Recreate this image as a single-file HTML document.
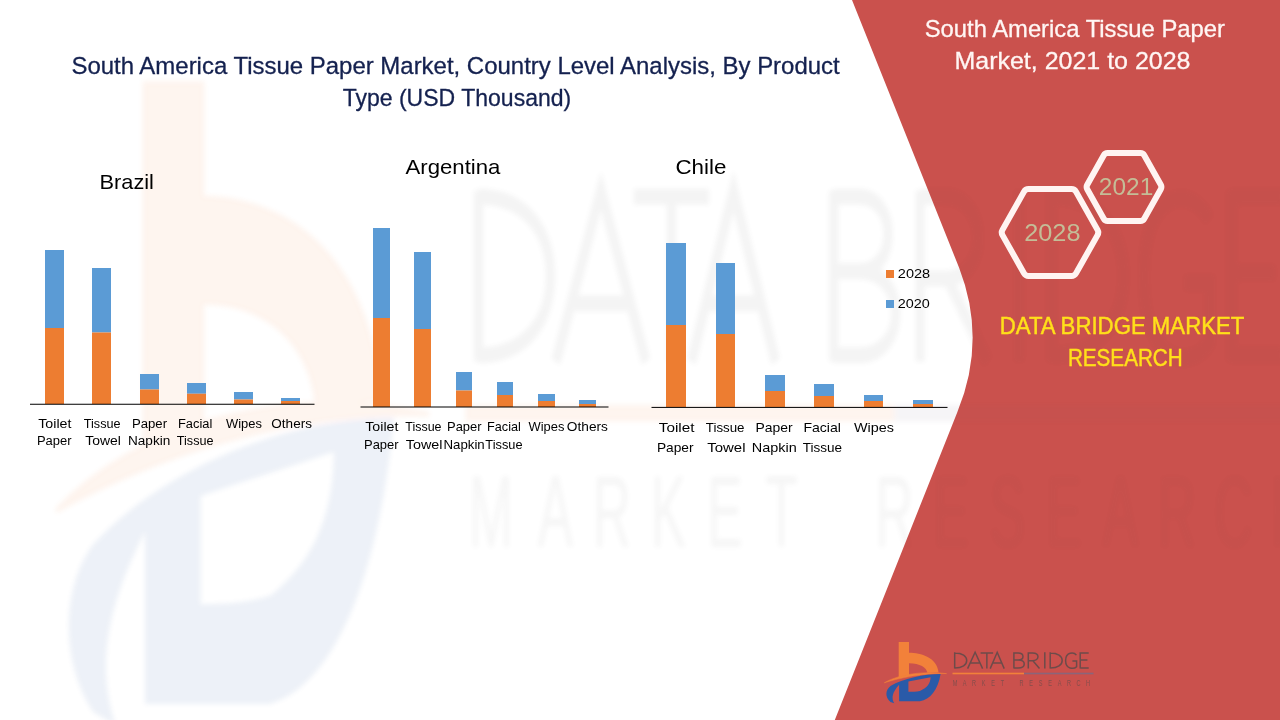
<!DOCTYPE html>
<html><head><meta charset="utf-8"><title>South America Tissue Paper Market</title>
<style>
html,body{margin:0;padding:0;background:#fff;}
body{width:1280px;height:720px;overflow:hidden;}
svg{display:block;font-family:"Liberation Sans",sans-serif;}
text{white-space:pre;}
</style></head><body>
<svg width="1280" height="720" viewBox="0 0 1280 720">
<defs>
<filter id="wmblur" x="0" y="0" width="1280" height="720" filterUnits="userSpaceOnUse"><feGaussianBlur stdDeviation="2.5"/></filter>
<g id="logo">
<path d="M898.7,641.9 H909 V652.8 C921,652.8 937,657.5 938.6,672.4 L927.4,672.8 C926.6,667.5 920,663.2 909,663.2 V675 L898.7,677.5 Z" fill="#F2813A"/>
<path d="M884.3,682.8 C897,675 921,670.6 946.5,673.6 C922,673.2 900,677.8 884.3,682.8 Z" fill="#F2813A" stroke="#F2813A" stroke-width="0.5"/>
<path d="M940.6,673.9 C925,673.8 903,678.2 890.5,686 C885.3,690 884.8,697 890.5,702 L894.2,703.2 C891.2,698 892.2,692.5 899.1,684.8 L899.1,701.2 L920,701.2 C930,699.5 938,690 940.6,673.9 Z M908.4,681.4 L930.6,677.2 C930.5,683 927.5,687.5 920,690.9 C916,691.6 912,691.7 908.4,691.7 Z" fill="#2A5AA8" fill-rule="evenodd"/>
<g fill="none" stroke="#4A4A4A" stroke-opacity="0.72" stroke-width="1.5">
<path transform="translate(953.9,652.3)" d="M0.8,0 V16.3 M0.8,0.6 C8.5,0.6 12.8,3.8 12.8,8.15 C12.8,12.5 8.5,15.700000000000001 0.8,15.700000000000001"/>
<path transform="translate(967.6,652.3)" d="M0,16.3 L7.5,0 L15,16.3 M3.2,10.76 H11.8"/>
<path transform="translate(980.6,652.3)" d="M0,0.6 H12.5 M6.25,0.6 V16.3"/>
<path transform="translate(990.2,652.3)" d="M0,16.3 L7.0,0 L14,16.3 M3,10.76 H11"/>
<path transform="translate(1013.1,652.3)" d="M0.8,0 V16.3 M0.8,0.6 H5 C11.5,0.6 11.5,7.7 5,7.7 H0.8 M5,7.7 C13.2,7.7 13.2,15.700000000000001 5,15.700000000000001 H0.8"/>
<path transform="translate(1027.5,652.3)" d="M0.8,16.3 V0 M0.8,0.6 H5 C12.3,0.6 12.3,8.4 5,8.4 H0.8 M5.4,8.4 L12,16.3"/>
<path transform="translate(1043.9,652.3)" d="M0.9,0 V16.3"/>
<path transform="translate(1049.4,652.3)" d="M0.8,0 V16.3 M0.8,0.6 C8.5,0.6 12.8,3.8 12.8,8.15 C12.8,12.5 8.5,15.700000000000001 0.8,15.700000000000001"/>
<path transform="translate(1065.0,652.3)" d="M11.4,2.8 C9,-0.4 0.6,-0.6 0.6,8.15 C0.6,17.2 9,17.0 11.6,14.4 V8.80 H7.4"/>
<path transform="translate(1079.4,652.3)" d="M0.8,0 V16.3 M0.8,0.6 H9.3 M0.8,7.82 H8 M0.8,15.700000000000001 H9.3"/>
</g>
<rect x="952.5" y="672.7" width="71.5" height="1.6" fill="#F2813A"/>
<rect x="1024" y="672.7" width="69.5" height="1.6" fill="#7A6A86" fill-opacity="0.8"/>
</g>
<clipPath id="redclip"><path d="M852,0 L959.2,268 Q987,340 957.4,412 L834.8,720 L1280,720 L1280,0 Z"/></clipPath>
</defs>
<rect width="1280" height="720" fill="#fff"/>
<g opacity="0.085" filter="url(#wmblur)"><use href="#logo" transform="matrix(6.0,0,0,10.5,-5249.70,-6658.70)"/><text transform="translate(0,547) scale(0.52,1)" font-size="102" text-anchor="middle" fill="#4A4A4A" fill-opacity="0.6" x="944.2 1068.3 1176.9 1285.6 1394.2 1502.9 1720.2 1828.8 1937.5 2046.2 2154.8 2263.5 2372.1 2480.8">MARKETRESEARCH</text></g>
<path d="M852,0 L959.2,268 Q987,340 957.4,412 L834.8,720 L1280,720 L1280,0 Z" fill="#CA514D"/>
<g opacity="0.04" filter="url(#wmblur)" clip-path="url(#redclip)"><use href="#logo" transform="matrix(6.0,0,0,10.5,-5249.70,-6658.70)"/><text transform="translate(0,547) scale(0.52,1)" font-size="102" text-anchor="middle" fill="#4A4A4A" fill-opacity="0.6" x="944.2 1068.3 1176.9 1285.6 1394.2 1502.9 1720.2 1828.8 1937.5 2046.2 2154.8 2263.5 2372.1 2480.8">MARKETRESEARCH</text></g>
<text x="71.45" y="73.60" font-size="24.30" fill="#14214F" textLength="768.26" lengthAdjust="spacingAndGlyphs" stroke="#14214F" stroke-width="0.3">South America Tissue Paper Market, Country Level Analysis, By Product</text>
<text x="342.64" y="105.80" font-size="24.30" fill="#14214F" textLength="228.65" lengthAdjust="spacingAndGlyphs" stroke="#14214F" stroke-width="0.3">Type (USD Thousand)</text>
<text x="99.55" y="189.00" font-size="19.80" fill="#000" textLength="54.38" lengthAdjust="spacingAndGlyphs" >Brazil</text>
<rect x="45" y="250" width="19" height="78" fill="#5B9BD5"/>
<rect x="45" y="328" width="19" height="76" fill="#ED7D31"/>
<rect x="92" y="268" width="19" height="64.5" fill="#5B9BD5"/>
<rect x="92" y="332.5" width="19" height="71.5" fill="#ED7D31"/>
<rect x="140" y="374" width="19" height="15.5" fill="#5B9BD5"/>
<rect x="140" y="389.5" width="19" height="14.5" fill="#ED7D31"/>
<rect x="187" y="383" width="19" height="10.75" fill="#5B9BD5"/>
<rect x="187" y="393.75" width="19" height="10.25" fill="#ED7D31"/>
<rect x="234" y="392" width="19" height="7.5" fill="#5B9BD5"/>
<rect x="234" y="399.5" width="19" height="4.5" fill="#ED7D31"/>
<rect x="281" y="398" width="19" height="3" fill="#5B9BD5"/>
<rect x="281" y="401" width="19" height="3" fill="#ED7D31"/>
<rect x="30" y="403.75" width="284.5" height="1" fill="#000"/>
<text x="38.28" y="427.50" font-size="12.30" fill="#000" textLength="33.17" lengthAdjust="spacingAndGlyphs" >Toilet</text>
<text x="36.99" y="444.50" font-size="12.30" fill="#000" textLength="34.58" lengthAdjust="spacingAndGlyphs" >Paper</text>
<text x="83.80" y="427.50" font-size="12.30" fill="#000" textLength="36.71" lengthAdjust="spacingAndGlyphs" >Tissue</text>
<text x="85.28" y="444.50" font-size="12.30" fill="#000" textLength="35.64" lengthAdjust="spacingAndGlyphs" >Towel</text>
<text x="131.97" y="427.50" font-size="12.30" fill="#000" textLength="35.09" lengthAdjust="spacingAndGlyphs" >Paper</text>
<text x="127.94" y="444.50" font-size="12.30" fill="#000" textLength="42.33" lengthAdjust="spacingAndGlyphs" >Napkin</text>
<text x="177.99" y="427.50" font-size="12.30" fill="#000" textLength="34.36" lengthAdjust="spacingAndGlyphs" >Facial</text>
<text x="176.80" y="444.50" font-size="12.30" fill="#000" textLength="36.71" lengthAdjust="spacingAndGlyphs" >Tissue</text>
<text x="226.00" y="427.50" font-size="12.30" fill="#000" textLength="35.90" lengthAdjust="spacingAndGlyphs" >Wipes</text>
<text x="271.37" y="427.50" font-size="12.30" fill="#000" textLength="40.56" lengthAdjust="spacingAndGlyphs" >Others</text>
<text x="405.50" y="173.50" font-size="19.80" fill="#000" textLength="94.86" lengthAdjust="spacingAndGlyphs" >Argentina</text>
<rect x="373" y="228" width="17" height="90" fill="#5B9BD5"/>
<rect x="373" y="318" width="17" height="89" fill="#ED7D31"/>
<rect x="414" y="252" width="17" height="77" fill="#5B9BD5"/>
<rect x="414" y="329" width="17" height="78" fill="#ED7D31"/>
<rect x="456" y="372" width="16" height="18.5" fill="#5B9BD5"/>
<rect x="456" y="390.5" width="16" height="16.5" fill="#ED7D31"/>
<rect x="497" y="382" width="16" height="13" fill="#5B9BD5"/>
<rect x="497" y="395" width="16" height="12" fill="#ED7D31"/>
<rect x="538" y="394" width="17" height="7" fill="#5B9BD5"/>
<rect x="538" y="401" width="17" height="6" fill="#ED7D31"/>
<rect x="579" y="400" width="17" height="4" fill="#5B9BD5"/>
<rect x="579" y="404" width="17" height="3" fill="#ED7D31"/>
<rect x="360.5" y="406.5" width="248" height="1" fill="#000"/>
<text x="365.28" y="431.00" font-size="12.90" fill="#000" textLength="33.17" lengthAdjust="spacingAndGlyphs" >Toilet</text>
<text x="363.99" y="449.00" font-size="12.90" fill="#000" textLength="34.58" lengthAdjust="spacingAndGlyphs" >Paper</text>
<text x="405.31" y="431.00" font-size="12.90" fill="#000" textLength="36.20" lengthAdjust="spacingAndGlyphs" >Tissue</text>
<text x="405.78" y="449.00" font-size="12.90" fill="#000" textLength="36.67" lengthAdjust="spacingAndGlyphs" >Towel</text>
<text x="446.99" y="431.00" font-size="12.90" fill="#000" textLength="34.58" lengthAdjust="spacingAndGlyphs" >Paper</text>
<text x="443.46" y="449.00" font-size="12.90" fill="#000" textLength="41.28" lengthAdjust="spacingAndGlyphs" >Napkin</text>
<text x="487.01" y="431.00" font-size="12.90" fill="#000" textLength="33.83" lengthAdjust="spacingAndGlyphs" >Facial</text>
<text x="485.30" y="449.00" font-size="12.90" fill="#000" textLength="37.22" lengthAdjust="spacingAndGlyphs" >Tissue</text>
<text x="528.50" y="431.00" font-size="12.90" fill="#000" textLength="35.90" lengthAdjust="spacingAndGlyphs" >Wipes</text>
<text x="566.86" y="431.00" font-size="12.90" fill="#000" textLength="41.07" lengthAdjust="spacingAndGlyphs" >Others</text>
<text x="675.45" y="173.50" font-size="19.80" fill="#000" textLength="50.95" lengthAdjust="spacingAndGlyphs" >Chile</text>
<rect x="666" y="243" width="20" height="82" fill="#5B9BD5"/>
<rect x="666" y="325" width="20" height="82" fill="#ED7D31"/>
<rect x="716" y="263" width="19" height="71" fill="#5B9BD5"/>
<rect x="716" y="334" width="19" height="73" fill="#ED7D31"/>
<rect x="765" y="375" width="20" height="16" fill="#5B9BD5"/>
<rect x="765" y="391" width="20" height="16" fill="#ED7D31"/>
<rect x="814" y="384" width="20" height="12" fill="#5B9BD5"/>
<rect x="814" y="396" width="20" height="11" fill="#ED7D31"/>
<rect x="864" y="395" width="19" height="6" fill="#5B9BD5"/>
<rect x="864" y="401" width="19" height="6" fill="#ED7D31"/>
<rect x="913" y="400" width="20" height="4" fill="#5B9BD5"/>
<rect x="913" y="404" width="20" height="3" fill="#ED7D31"/>
<rect x="651.5" y="406.9" width="296" height="1" fill="#000"/>
<text x="658.76" y="431.50" font-size="13.50" fill="#000" textLength="35.69" lengthAdjust="spacingAndGlyphs" >Toilet</text>
<text x="656.93" y="451.50" font-size="13.50" fill="#000" textLength="36.64" lengthAdjust="spacingAndGlyphs" >Paper</text>
<text x="705.79" y="431.50" font-size="13.50" fill="#000" textLength="38.75" lengthAdjust="spacingAndGlyphs" >Tissue</text>
<text x="707.27" y="451.50" font-size="13.50" fill="#000" textLength="38.22" lengthAdjust="spacingAndGlyphs" >Towel</text>
<text x="755.41" y="431.50" font-size="13.50" fill="#000" textLength="37.16" lengthAdjust="spacingAndGlyphs" >Paper</text>
<text x="751.87" y="451.50" font-size="13.50" fill="#000" textLength="44.94" lengthAdjust="spacingAndGlyphs" >Napkin</text>
<text x="803.40" y="431.50" font-size="13.50" fill="#000" textLength="37.53" lengthAdjust="spacingAndGlyphs" >Facial</text>
<text x="802.79" y="451.50" font-size="13.50" fill="#000" textLength="39.26" lengthAdjust="spacingAndGlyphs" >Tissue</text>
<text x="854.00" y="431.50" font-size="13.50" fill="#000" textLength="39.95" lengthAdjust="spacingAndGlyphs" >Wipes</text>
<rect x="886" y="270" width="8" height="8" fill="#ED7D31"/>
<rect x="886" y="300" width="8" height="8" fill="#5B9BD5"/>
<text x="897.82" y="278.00" font-size="13.50" fill="#000" textLength="32.27" lengthAdjust="spacingAndGlyphs" >2028</text>
<text x="897.83" y="308.00" font-size="13.50" fill="#000" textLength="32.03" lengthAdjust="spacingAndGlyphs" >2020</text>
<text x="924.76" y="37.20" font-size="24.30" fill="#FFF6F4" textLength="300.15" lengthAdjust="spacingAndGlyphs" stroke="#FFF6F4" stroke-width="0.3">South America Tissue Paper</text>
<text x="954.45" y="69.30" font-size="24.30" fill="#FFF6F4" textLength="236.06" lengthAdjust="spacingAndGlyphs" stroke="#FFF6F4" stroke-width="0.3">Market, 2021 to 2028</text>
<g fill="none" stroke="#FFF4F2" stroke-width="6" stroke-linejoin="round">
<path d="M1002.47,235.11 Q1001.00,232.50 1002.47,229.89 L1024.03,191.61 Q1025.50,189.00 1028.50,189.00 L1071.50,189.00 Q1074.50,189.00 1075.97,191.61 L1097.53,229.89 Q1099.00,232.50 1097.53,235.11 L1075.97,273.39 Q1074.50,276.00 1071.50,276.00 L1028.50,276.00 Q1025.50,276.00 1024.03,273.39 Z"/>
<path d="M1087.22,189.18 Q1086.00,187.00 1087.22,184.82 L1103.78,155.18 Q1105.00,153.00 1107.50,153.00 L1140.50,153.00 Q1143.00,153.00 1144.22,155.18 L1160.78,184.82 Q1162.00,187.00 1160.78,189.18 L1144.22,218.82 Q1143.00,221.00 1140.50,221.00 L1107.50,221.00 Q1105.00,221.00 1103.78,218.82 Z"/>
</g>
<text x="1024.21" y="240.90" font-size="24.30" fill="#C4BD97" textLength="56.31" lengthAdjust="spacingAndGlyphs" >2028</text>
<text x="1098.85" y="194.60" font-size="24.30" fill="#C4BD97" textLength="54.44" lengthAdjust="spacingAndGlyphs" >2021</text>
<text x="999.77" y="334.00" font-size="24.30" fill="#FFE01A" textLength="244.60" lengthAdjust="spacingAndGlyphs" stroke="#FFE01A" stroke-width="0.45">DATA BRIDGE MARKET</text>
<text x="1067.89" y="365.70" font-size="24.30" fill="#FFE01A" textLength="114.80" lengthAdjust="spacingAndGlyphs" stroke="#FFE01A" stroke-width="0.45">RESEARCH</text>
<use href="#logo"/>
<text transform="translate(0,686.2) scale(0.62,1)" font-size="9" text-anchor="middle" fill="#4A4A4A" fill-opacity="0.55" x="1540.32 1555.65 1570.97 1586.29 1601.61 1616.94 1647.58 1662.90 1678.23 1693.55 1708.87 1724.19 1739.52 1754.84">MARKETRESEARCH</text>
</svg>
</body></html>
